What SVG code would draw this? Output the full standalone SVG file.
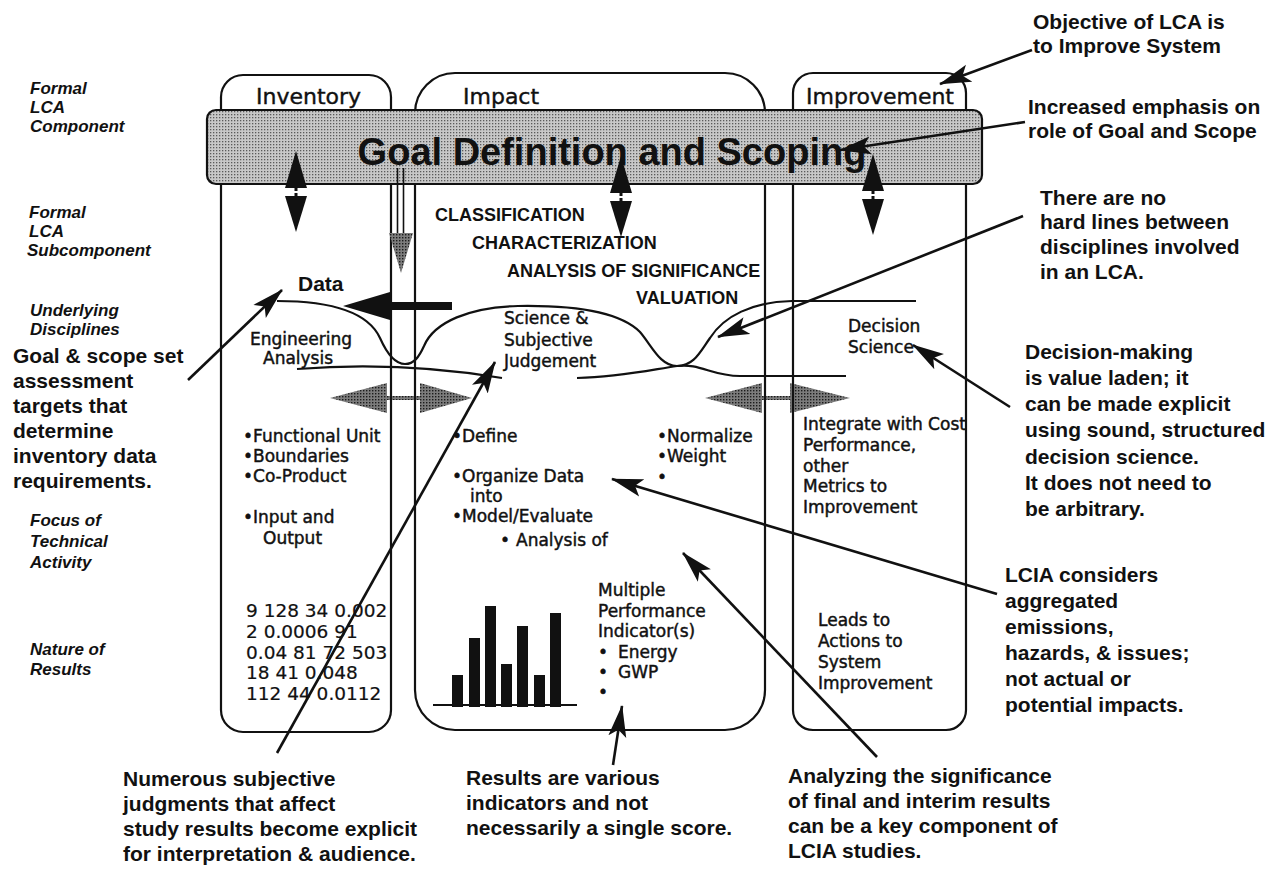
<svg xmlns="http://www.w3.org/2000/svg" xmlns:xlink="http://www.w3.org/1999/xlink" width="1276" height="869" viewBox="0 0 1276 869">
  <defs>
    <style>
      .lab { font-family: "Liberation Sans", Arial, sans-serif; font-weight: bold; font-style: italic; font-size: 17px; fill: #111; }
      .ann { font-family: "Liberation Sans", Arial, sans-serif; font-weight: bold; font-size: 21px; fill: #111; }
      .hdr { font-family: "DejaVu Sans", sans-serif; font-size: 22px; fill: #111; stroke: #111; stroke-width: 0.4; }
      .in  { font-family: "DejaVu Sans", sans-serif; font-size: 17px; fill: #111; stroke: #111; stroke-width: 0.45; }
      .num { font-family: "DejaVu Sans", sans-serif; font-size: 18.5px; fill: #111; stroke: #111; stroke-width: 0.2; }
      .cap { font-family: "Liberation Sans", Arial, sans-serif; font-weight: bold; font-size: 18px; fill: #111; }
      .goal { font-family: "Liberation Sans", Arial, sans-serif; font-weight: bold; font-size: 38px; fill: #111; }
      .box { fill: none; stroke: #111; stroke-width: 2.2; }
      .ln  { fill: none; stroke: #111; stroke-width: 2.2; }
      .lead { fill: none; stroke: #111; stroke-width: 2.6; marker-end: url(#ah); }
      .dk  { fill: url(#dstip); }
    </style>
    <!-- light screen tone for the goal band -->
    <pattern id="lstip" width="3" height="3" patternUnits="userSpaceOnUse">
      <rect width="3" height="3" fill="#c8c8c8"/>
      <rect width="1.3" height="1.3" fill="#5a5a5a"/>
    </pattern>
    <!-- dark screen tone for the shaded arrowheads -->
    <pattern id="dstip" width="3" height="3" patternUnits="userSpaceOnUse">
      <rect width="3" height="3" fill="#7c7c7c"/>
      <rect width="1.4" height="1.4" fill="#1c1c1c"/>
    </pattern>
    <marker id="ah" viewBox="0 0 32 20" refX="31" refY="10" markerWidth="32" markerHeight="20" markerUnits="userSpaceOnUse" orient="auto">
      <path d="M0,1 L32,10 L0,19 L7,10 Z" fill="#111"/>
    </marker>
    <!-- two-headed vertical arrow, drawn downward from its top tip -->
    <g id="vdbl" fill="#111">
      <polygon points="-11,37 0,0 11,37"/>
      <rect x="-1.5" y="36" width="3" height="11"/>
      <polygon points="-11,45 0,81 11,45"/>
      <line x1="-8" y1="41" x2="8" y2="41" stroke="#fff" stroke-width="2"/>
    </g>
  </defs>

  <rect width="1276" height="869" fill="#fff"/>

  <!-- row labels -->
  <g id="row-labels" class="lab">
    <text x="30" y="94">Formal</text>
    <text x="30" y="113">LCA</text>
    <text x="30" y="132">Component</text>
    <text x="29" y="218">Formal</text>
    <text x="29" y="237">LCA</text>
    <text x="27" y="256">Subcomponent</text>
    <text x="30" y="316">Underlying</text>
    <text x="30" y="335">Disciplines</text>
    <text x="30" y="526">Focus of</text>
    <text x="30" y="547">Technical</text>
    <text x="30" y="568">Activity</text>
    <text x="30" y="655">Nature of</text>
    <text x="30" y="675">Results</text>
  </g>

  <!-- shaded two-way arrows between the columns -->
  <g id="links-shaded">
    <polygon class="dk" points="330,398 387,383 387,396 420,396 420,383 472,398 420,413 420,400 387,400 387,413"/>
    <polygon class="dk" points="705,398 762,383 762,396 790,396 790,383 850,398 790,413 790,400 762,400 762,413"/>
  </g>

  <!-- column boxes -->
  <g id="inventory">
    <path class="box" d="M221,97 A22,22 0 0 1 243,75 L369,75 A22,22 0 0 1 391,97 L391,710 A22,22 0 0 1 369,732 L243,732 A22,22 0 0 1 221,710 Z"/>
    <text class="hdr" x="256" y="104">Inventory</text>
    <text class="ann" x="298" y="291" font-size="22">Data</text>
    <text class="in" x="250" y="345" font-size="16.5">Engineering</text>
    <text class="in" x="263" y="364" font-size="16.5">Analysis</text>
    <text class="in" x="243" y="442">•Functional Unit</text>
    <text class="in" x="243" y="462">•Boundaries</text>
    <text class="in" x="243" y="482">•Co-Product</text>
    <text class="in" x="243" y="523">•Input and</text>
    <text class="in" x="263" y="544">Output</text>
    <text class="num" x="246" y="617">9 128 34 0.002</text>
    <text class="num" x="246" y="638">2 0.0006 91</text>
    <text class="num" x="246" y="659">0.04 81 72 503</text>
    <text class="num" x="246" y="679">18 41 0.048</text>
    <text class="num" x="246" y="700">112 44 0.0112</text>
  </g>

  <g id="impact">
    <path class="box" d="M415,113 A40,40 0 0 1 455,73 L725,73 A40,40 0 0 1 765,113 L765,690 A40,40 0 0 1 725,730 L455,730 A40,40 0 0 1 415,690 Z"/>
    <text class="hdr" x="463" y="104">Impact</text>
    <text class="cap" x="435" y="221">CLASSIFICATION</text>
    <text class="cap" x="472" y="249">CHARACTERIZATION</text>
    <text class="cap" x="507" y="277">ANALYSIS OF SIGNIFICANCE</text>
    <text class="cap" x="636" y="304">VALUATION</text>
    <text class="in" x="504" y="324" font-size="16.5">Science &amp;</text>
    <text class="in" x="504" y="346" font-size="16.5">Subjective</text>
    <text class="in" x="504" y="367" font-size="16.5">Judgement</text>
    <text class="in" x="452" y="442">•Define</text>
    <text class="in" x="452" y="482">•Organize Data</text>
    <text class="in" x="470" y="502">into</text>
    <text class="in" x="452" y="522">•Model/Evaluate</text>
    <text class="in" x="500" y="546">•<tspan x="516">Analysis of</tspan></text>
    <text class="in" x="657" y="442">•Normalize</text>
    <text class="in" x="657" y="462">•Weight</text>
    <text class="in" x="657" y="483">•</text>
    <text class="in" x="598" y="596" font-size="16.5">Multiple</text>
    <text class="in" x="598" y="617" font-size="16.5">Performance</text>
    <text class="in" x="598" y="637" font-size="16.5">Indicator(s)</text>
    <text class="in" x="598" y="658" font-size="16.5">•<tspan x="618">Energy</tspan></text>
    <text class="in" x="598" y="678" font-size="16.5">•<tspan x="618">GWP</tspan></text>
    <text class="in" x="598" y="698" font-size="16.5">•</text>
    <!-- bar chart -->
    <g fill="#111">
      <rect x="452" y="675" width="11" height="32"/>
      <rect x="469" y="638" width="11" height="69"/>
      <rect x="485" y="606" width="11" height="101"/>
      <rect x="501" y="664" width="11" height="43"/>
      <rect x="517" y="626" width="11" height="81"/>
      <rect x="534" y="675" width="11" height="32"/>
      <rect x="550" y="613" width="11" height="94"/>
    </g>
    <line class="ln" x1="433" y1="705" x2="577" y2="705"/>
  </g>

  <g id="improvement">
    <path class="box" d="M793,93 A20,20 0 0 1 813,73 L946,73 A20,20 0 0 1 966,93 L966,710 A20,20 0 0 1 946,730 L813,730 A20,20 0 0 1 793,710 Z"/>
    <text class="hdr" x="806" y="104">Improvement</text>
    <text class="in" x="848" y="332" font-size="16">Decision</text>
    <text class="in" x="848" y="353" font-size="16">Science</text>
    <text class="in" x="803" y="430">Integrate with Cost</text>
    <text class="in" x="803" y="451">Performance,</text>
    <text class="in" x="803" y="472">other</text>
    <text class="in" x="803" y="492">Metrics to</text>
    <text class="in" x="803" y="513">Improvement</text>
    <text class="in" x="818" y="626" font-size="16">Leads to</text>
    <text class="in" x="818" y="647" font-size="16">Actions to</text>
    <text class="in" x="818" y="668" font-size="16">System</text>
    <text class="in" x="818" y="689" font-size="16">Improvement</text>
  </g>

  <!-- goal band across the three columns -->
  <g id="goal">
    <rect x="207" y="110" width="775" height="74" rx="9" fill="url(#lstip)" stroke="#111" stroke-width="2.2"/>
    <text class="goal" x="612" y="165" text-anchor="middle">Goal Definition and Scoping</text>
  </g>

  <!-- discipline boundary curves -->
  <g id="disciplines">
    <path class="ln" d="M277,301 C330,301 368,312 380,338 C388,356 396,364 405,364 C414,364 419,357 424,346 C434,322 470,307 518,306 C580,305 622,314 640,332 C652,346 660,366 677,366 C694,366 700,352 710,338 C724,316 752,302 792,301 L916,301"/>
    <path class="ln" d="M297,369 Q400,361 502,378"/>
    <path class="ln" d="M577,378 C620,377 650,370 677,366 C700,363 712,376 740,376 L846,376"/>
  </g>

  <!-- flows between goal band and columns -->
  <g id="flows">
    <use xlink:href="#vdbl" x="296" y="151"/>
    <use xlink:href="#vdbl" x="621" y="156"/>
    <use xlink:href="#vdbl" x="873" y="154"/>
    <line x1="397.5" y1="168" x2="397.5" y2="236" stroke="#111" stroke-width="1.6"/>
    <line x1="403.5" y1="168" x2="403.5" y2="236" stroke="#111" stroke-width="1.6"/>
    <polygon class="dk" points="389,233 413,233 401,273"/>
    <polygon fill="#111" points="343,306 390,292 390,302 452,302 452,310 390,310 390,320"/>
  </g>

  <!-- callout leaders -->
  <g id="connectors">
    <line class="lead" x1="1032" y1="50" x2="940" y2="84"/>
    <line class="lead" x1="1025" y1="122" x2="840" y2="150"/>
    <line class="lead" x1="1023" y1="216" x2="718" y2="337"/>
    <line class="lead" x1="1010" y1="407" x2="913" y2="345"/>
    <line class="lead" x1="997" y1="594" x2="612" y2="479"/>
    <line class="lead" x1="188" y1="380" x2="282" y2="290"/>
    <line class="lead" x1="277" y1="753" x2="495" y2="362"/>
    <line class="lead" x1="613" y1="765" x2="622" y2="706"/>
    <line class="lead" x1="877" y1="757" x2="683" y2="553"/>
  </g>

  <!-- callout texts -->
  <g id="note-objective" class="ann" font-size="20">
    <text x="1033" y="29">Objective of LCA is</text>
    <text x="1033" y="53">to Improve System</text>
  </g>
  <g id="note-emphasis" class="ann" font-size="20.5">
    <text x="1028" y="114">Increased emphasis on</text>
    <text x="1028" y="138">role of Goal and Scope</text>
  </g>
  <g id="note-hardlines" class="ann" font-size="20">
    <text x="1040" y="205">There are no</text>
    <text x="1040" y="229">hard lines between</text>
    <text x="1040" y="254">disciplines involved</text>
    <text x="1040" y="279">in an LCA.</text>
  </g>
  <g id="note-decision" class="ann">
    <text x="1025" y="359">Decision-making</text>
    <text x="1025" y="385">is value laden; it</text>
    <text x="1025" y="411">can be made explicit</text>
    <text x="1025" y="437">using sound, structured</text>
    <text x="1025" y="464">decision science.</text>
    <text x="1025" y="490">It does not need to</text>
    <text x="1025" y="516">be arbitrary.</text>
  </g>
  <g id="note-lcia" class="ann">
    <text x="1005" y="582">LCIA considers</text>
    <text x="1005" y="608">aggregated</text>
    <text x="1005" y="634">emissions,</text>
    <text x="1005" y="660">hazards, &amp; issues;</text>
    <text x="1005" y="686">not actual or</text>
    <text x="1005" y="712">potential impacts.</text>
  </g>
  <g id="note-goalscope" class="ann">
    <text x="13" y="363">Goal &amp; scope set</text>
    <text x="13" y="388">assessment</text>
    <text x="13" y="413">targets that</text>
    <text x="13" y="438">determine</text>
    <text x="13" y="463">inventory data</text>
    <text x="13" y="488">requirements.</text>
  </g>
  <g id="note-judgments" class="ann">
    <text x="123" y="786">Numerous subjective</text>
    <text x="123" y="811">judgments that affect</text>
    <text x="123" y="836">study results become explicit</text>
    <text x="123" y="861">for interpretation &amp; audience.</text>
  </g>
  <g id="note-results" class="ann">
    <text x="466" y="785">Results are various</text>
    <text x="466" y="810">indicators and not</text>
    <text x="466" y="835">necessarily a single score.</text>
  </g>
  <g id="note-significance" class="ann">
    <text x="788" y="783">Analyzing the significance</text>
    <text x="788" y="808">of final and interim results</text>
    <text x="788" y="833">can be a key component of</text>
    <text x="788" y="858">LCIA studies.</text>
  </g>
</svg>
